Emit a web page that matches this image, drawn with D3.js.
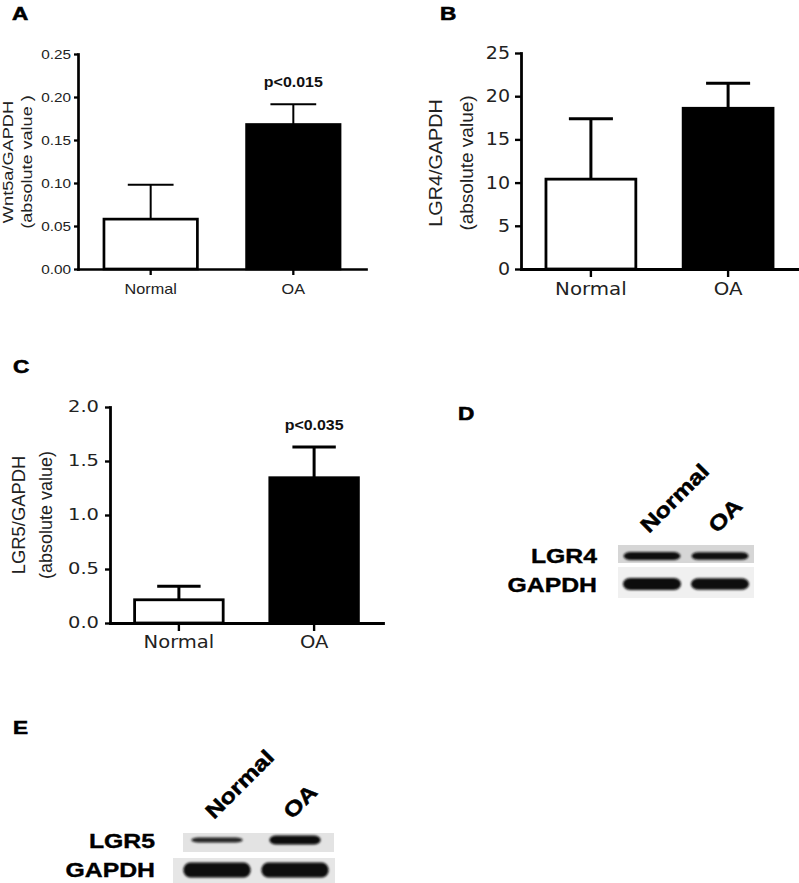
<!DOCTYPE html>
<html><head><meta charset="utf-8">
<script src="https://cdn.jsdelivr.net/npm/d3@7"></script>
<style>body{margin:0;background:#fff}svg{display:block}</style>
</head><body>
<svg id="c" width="799" height="883"></svg>
<script>
// ---------- data ----------
const categories = ["Normal", "OA"];
const wnt5aMean = [0.058, 0.168];
const wnt5aErr = [0.040, 0.0235];
const wnt5aTicks = [0, 0.05, 0.10, 0.15, 0.20, 0.25];
const wnt5aP = [null, "p<0.015"];

const lgr4Mean = [10.4, 18.6];
const lgr4Err = [7.0, 2.9];
const lgr4Ticks = [0, 5, 10, 15, 20, 25];
const lgr4P = [null, null];

const lgr5Mean = [0.215, 1.345];
const lgr5Err = [0.125, 0.285];
const lgr5Ticks = [0, 0.5, 1.0, 1.5, 2.0];
const lgr5P = [null, "p<0.035"];

const panelLetters = ["A", "B", "C", "D", "E"];

const blotLanes = ["Normal", "OA"];
const blotDRows = ["LGR4", "GAPDH"];
const blotDIntensity = [[1.0, 0.95], [1.0, 0.97]];
const blotERows = ["LGR5", "GAPDH"];
const blotEIntensity = [[0.55, 1.0], [1.0, 1.0]];

// ---------- drawing ----------
const svg = d3.select("#c");
const defs = svg.append("defs");
defs.append("filter").attr("id", "blur")
  .attr("x", "-20%").attr("y", "-80%").attr("width", "140%").attr("height", "260%")
  .append("feGaussianBlur").attr("stdDeviation", 1.1);

const ARIAL = "'Liberation Sans', Arial, Helvetica, sans-serif";
const DEJAVU = "'DejaVu Sans', Verdana, sans-serif";

function drawBarPanel(c) {
  const g = svg.append("g");
  const x = d3.scaleBand().domain(categories).range(c.xRange).paddingInner(0.345).paddingOuter(0.182);
  const y = d3.scaleLinear().domain([0, c.yMax]).range(c.yRange);
  const bw = x.bandwidth();
  const rows = categories.map((k, i) => ({k, m: c.mean[i], e: c.err[i], p: c.p[i], fill: i === 0 ? "#fff" : "#000"}));

  // bars
  g.selectAll("rect.bar").data(rows).join("rect").attr("class", "bar")
    .attr("x", d => x(d.k)).attr("width", bw)
    .attr("y", d => y(d.m)).attr("height", d => y(0) - y(d.m))
    .attr("fill", d => d.fill).attr("stroke", "#000").attr("stroke-width", c.barW);

  // error bars (upper)
  g.selectAll("line.err").data(rows).join("line").attr("class", "err")
    .attr("x1", d => x(d.k) + bw / 2).attr("x2", d => x(d.k) + bw / 2)
    .attr("y1", d => y(d.m)).attr("y2", d => y(d.m + d.e))
    .attr("stroke", "#000").attr("stroke-width", c.errW);
  g.selectAll("line.cap").data(rows).join("line").attr("class", "cap")
    .attr("x1", d => x(d.k) + bw / 2 - bw * 0.245).attr("x2", d => x(d.k) + bw / 2 + bw * 0.245)
    .attr("y1", d => y(d.m + d.e)).attr("y2", d => y(d.m + d.e))
    .attr("stroke", "#000").attr("stroke-width", c.errW);

  // p labels
  g.selectAll("text.p").data(rows.filter(d => d.p)).join("text").attr("class", "p")
    .attr("transform", d => `translate(${x(d.k) + bw / 2},${y(d.m + d.e) - c.pOffset}) scale(${c.pSx},1)`)
    .attr("text-anchor", "middle").attr("font-family", ARIAL).attr("font-weight", "bold")
    .attr("font-size", c.pSize).attr("fill", "#111").text(d => d.p);

  // y axis
  const ya = g.append("g").attr("transform", `translate(${c.xRange[0]},0)`)
    .call(d3.axisLeft(y).tickValues(c.ticks).tickFormat(d3.format(c.fmt)).tickSize(c.tickLen).tickSizeOuter(0));
  ya.select(".domain").attr("stroke", "#000").attr("stroke-width", c.axisW).attr("stroke-linecap", "square");
  ya.selectAll(".tick line").attr("stroke", "#000").attr("stroke-width", c.axisW * 0.85);
  ya.selectAll(".tick text").attr("font-family", c.tickFont).attr("font-size", c.tickSize).attr("fill", "#222")
    .attr("x", -c.tickGap / c.tickSx).attr("transform", `scale(${c.tickSx},1)`);

  // x axis
  const xa = g.append("g").attr("transform", `translate(0,${c.yRange[0]})`)
    .call(d3.axisBottom(x).tickSize(c.xTickLen).tickSizeOuter(0));
  xa.select(".domain").attr("stroke", "#000").attr("stroke-width", c.axisW).attr("stroke-linecap", "square");
  xa.selectAll(".tick line").attr("stroke", "#000").attr("stroke-width", c.axisW * 0.85);
  xa.selectAll(".tick text").attr("font-family", c.xLabFont).attr("font-size", c.xLabSize).attr("fill", "#222")
    .attr("y", c.xLabBaseline - c.yRange[0]).attr("dy", 0).attr("transform", `scale(${c.xLabSx},1)`);

  // y title
  g.selectAll("text.ytitle").data(c.titles).join("text").attr("class", "ytitle")
    .attr("transform", d => `translate(${d.x},${c.titleCy}) rotate(-90) scale(${d.sx},1)`)
    .attr("text-anchor", "middle").attr("font-family", ARIAL).attr("font-size", d => d.size)
    .attr("fill", "#222").text(d => d.text);
}

drawBarPanel({
  mean: wnt5aMean, err: wnt5aErr, ticks: wnt5aTicks, fmt: ".2f", p: wnt5aP, yMax: 0.25,
  xRange: [78, 366], yRange: [269, 54], barW: 2.7, errW: 2, axisW: 2.7,
  tickLen: 4, xTickLen: 6, tickGap: 7, tickFont: ARIAL, tickSize: 13, tickSx: 1.18,
  xLabFont: ARIAL, xLabSize: 15, xLabSx: 1.08, xLabBaseline: 294,
  titles: [{text: "Wnt5a/GAPDH", x: 13, size: 14, sx: 1.3}, {text: "(absolute value )", x: 31.5, size: 14, sx: 1.29}],
  titleCy: 162, pSize: 14.5, pSx: 1.1, pOffset: 17
});
drawBarPanel({
  mean: lgr4Mean, err: lgr4Err, ticks: lgr4Ticks, fmt: "d", p: lgr4P, yMax: 25,
  xRange: [521, 798], yRange: [269, 53], barW: 2.8, errW: 3, axisW: 2.8,
  tickLen: 6, xTickLen: 8, tickGap: 11, tickFont: DEJAVU, tickSize: 17, tickSx: 1.12,
  xLabFont: DEJAVU, xLabSize: 18, xLabSx: 1.1, xLabBaseline: 295,
  titles: [{text: "LGR4/GAPDH", x: 442, size: 19, sx: 1.04}, {text: "(absolute value)", x: 472.5, size: 19, sx: 1.0}],
  titleCy: 163, pSize: 14.5, pSx: 1.1, pOffset: 17
});
drawBarPanel({
  mean: lgr5Mean, err: lgr5Err, ticks: lgr5Ticks, fmt: ".1f", p: lgr5P, yMax: 2,
  xRange: [110, 383], yRange: [623, 407], barW: 2.8, errW: 3, axisW: 2.8,
  tickLen: 5, xTickLen: 8, tickGap: 11, tickFont: DEJAVU, tickSize: 15, tickSx: 1.3,
  xLabFont: DEJAVU, xLabSize: 17, xLabSx: 1.15, xLabBaseline: 648,
  titles: [{text: "LGR5/GAPDH", x: 25, size: 18, sx: 1.02}, {text: "(absolute value)", x: 51.5, size: 18, sx: 1.0}],
  titleCy: 515, pSize: 14.5, pSx: 1.1, pOffset: 16.5
});

// panel letters
const letterPos = [[12, 20], [440, 20], [13, 373], [458, 420], [13, 734]];
svg.selectAll("text.letter").data(panelLetters).join("text").attr("class", "letter")
  .attr("transform", (d, i) => `translate(${letterPos[i][0]},${letterPos[i][1]}) scale(1.22,1)`)
  .attr("font-family", ARIAL).attr("font-weight", "bold").attr("font-size", 18.5)
  .attr("stroke", "#000").attr("stroke-width", 0.6).attr("fill", "#000").text(d => d);

function drawBlot(c) {
  const g = svg.append("g");
  const lane = d3.scaleBand().domain(blotLanes).range(c.laneRange).paddingInner(0.1).paddingOuter(0.05);
  const bw = lane.bandwidth();
  c.rows.forEach((row, r) => {
    const s = c.strips[r];
    g.append("rect").attr("x", s.x0).attr("y", s.y0).attr("width", s.x1 - s.x0).attr("height", s.y1 - s.y0)
      .attr("fill", s.bg);
    const bands = blotLanes.map((l, i) => ({l, v: c.intensity[r][i]}));
    g.selectAll(null).data(bands).join("rect")
      .attr("x", d => lane(d.l) + bw * (1 - s.wf) / 2).attr("width", bw * s.wf)
      .attr("y", d => s.cy - s.h * d.v / 2).attr("height", d => s.h * d.v)
      .attr("rx", 7).attr("ry", d => s.h * d.v / 2)
      .attr("fill", "#0d0d0d").attr("opacity", d => 0.75 + 0.25 * d.v)
      .attr("filter", "url(#blur)");
    g.append("text").attr("transform", `translate(${c.labelX},${c.baselines[r]}) scale(1.18,1)`)
      .attr("text-anchor", "end").attr("font-family", ARIAL).attr("font-weight", "bold")
      .attr("font-size", 21).attr("fill", "#000").attr("stroke", "#000").attr("stroke-width", 0.4).text(row);
  });
  g.selectAll("text.lane").data(blotLanes).join("text").attr("class", "lane")
    .attr("transform", d => `translate(${lane(d) + bw / 2 - 3},${c.laneLabelY}) rotate(-45) scale(1.2,1)`)
    .attr("font-family", ARIAL).attr("font-weight", "bold").attr("font-size", 21)
    .attr("fill", "#000").attr("stroke", "#000").attr("stroke-width", 0.5).text(d => d);
}

drawBlot({
  rows: blotDRows, intensity: blotDIntensity, laneRange: [618, 754],
  strips: [
    {x0: 618, x1: 754, y0: 545, y1: 563, bg: "#d6d6d6", h: 8, cy: 556, wf: 0.93},
    {x0: 618, x1: 754, y0: 567, y1: 598, bg: "#f0f0f0", h: 12, cy: 584, wf: 0.95}
  ],
  labelX: 597, baselines: [563, 592], laneLabelY: 534
});
drawBlot({
  rows: blotERows, intensity: blotEIntensity, laneRange: [178, 334],
  strips: [
    {x0: 183, x1: 334, y0: 833, y1: 852, bg: "#e3e3e3", h: 9, cy: 840, wf: 0.73},
    {x0: 173, x1: 335, y0: 858, y1: 883, bg: "#e6e6e6", h: 15, cy: 870, wf: 0.96}
  ],
  labelX: 155, baselines: [848, 877], laneLabelY: 820
});
</script>
</body></html>
